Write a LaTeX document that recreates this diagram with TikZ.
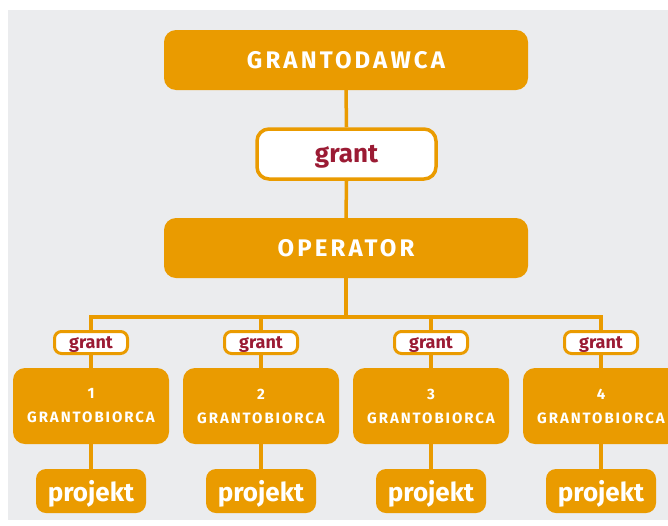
\documentclass[tikz,border=0pt]{standalone}
\usepackage{fontspec}
\setmainfont{Fira Sans}
\newfontfamily\capsfont[LetterSpace=13]{Fira Sans}
\definecolor{org}{RGB}{234,155,0}
\definecolor{bgc}{RGB}{235,236,238}
\definecolor{dred}{RGB}{155,27,52}
\begin{document}
\begin{tikzpicture}[x=1pt,y=-1pt,
  bigbox/.style={fill=org, rounded corners=12pt, minimum width=364pt, minimum height=60pt, inner sep=0pt, text=white, font=\capsfont\bfseries\fontsize{24}{28}\selectfont},
  grantbig/.style={draw=org, line width=3.5pt, fill=white, rounded corners=12pt, minimum width=179pt, minimum height=50pt, inner sep=0pt, text depth=0pt, text=dred, font=\bfseries\fontsize{26}{30}\selectfont},
  grantsmall/.style={draw=org, line width=3pt, fill=white, rounded corners=7pt, minimum width=73pt, minimum height=22pt, inner sep=0pt, text depth=0pt, text=dred, font=\bfseries\fontsize{18}{20}\selectfont},
  gbox/.style={fill=org, rounded corners=12pt, minimum width=156pt, minimum height=76pt, inner sep=0pt, text=white, align=center, font=\capsfont\bfseries\fontsize{15}{24}\selectfont},
  projbox/.style={fill=org, rounded corners=10pt, minimum width=110pt, minimum height=44pt, inner sep=0pt, text depth=0pt, text=white, font=\bfseries\fontsize{26}{30}\selectfont},
  conn/.style={draw=org, line width=3.5pt}]
\useasboundingbox (0,0) rectangle (668,525);
\fill[bgc] (8,10) rectangle (668,520);

\node[bigbox] (top) at (346,60) {GRANTODAWCA};
\node[grantbig] (g0) at (346.5,154) {grant};
\node[bigbox] (op) at (346,248) {OPERATOR};
\coordinate (bar) at (346,317);

\foreach \i/\x in {1/91,2/261,3/431,4/601}{
  \node[grantsmall] (gs\i) at (\x,342.5) {grant};
  \node[gbox] (gb\i) at (\x,406) {\i\\GRANTOBIORCA};
  \node[projbox] (pj\i) at (\x,491) {projekt};
}

\draw[conn] (top.south) -- (g0.north);
\draw[conn] (g0.south) -- (op.north);
\draw[conn] (op.south) -- (bar);
\foreach \i in {1,2,3,4}{
  \draw[conn] (bar) -| (gs\i.north);
  \draw[conn] (gs\i.south) -- (gb\i.north);
  \draw[conn] (gb\i.south) -- (pj\i.north);
}
\end{tikzpicture}
\end{document}
